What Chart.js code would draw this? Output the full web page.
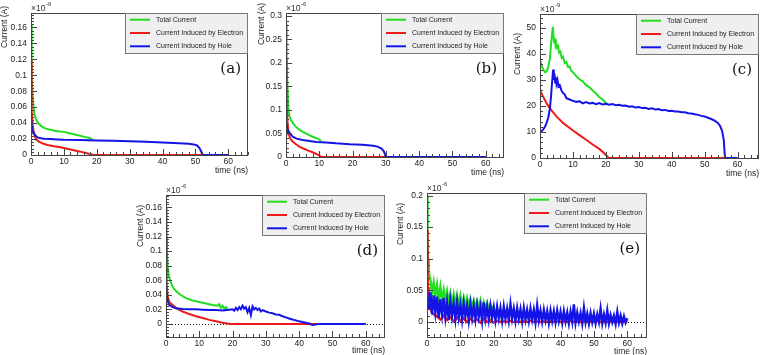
<!DOCTYPE html>
<html>
<head>
<meta charset="utf-8">
<script src="https://cdn.jsdelivr.net/npm/chart.js@4.4.1/dist/chart.umd.min.js"></script>
<style>
  body { margin: 0; background: #fff; }
  #wrap { position: relative; width: 760px; height: 355px; overflow: hidden; }
  canvas { position: absolute; }
</style>
</head>
<body>
<div id="wrap">
  <canvas id="pa" width="252" height="178" style="left:0px;top:0px"></canvas>
  <canvas id="pb" width="254" height="178" style="left:252px;top:0px"></canvas>
  <canvas id="pc" width="254" height="178" style="left:506px;top:0px"></canvas>
  <canvas id="pd" width="258" height="177" style="left:130px;top:178px"></canvas>
  <canvas id="pe" width="260" height="177" style="left:390px;top:178px"></canvas>
</div>
<script>
// legend labels (same in every panel)
const seriesNames = ['Total Current', 'Current Induced by Electron', 'Current Induced by Hole'];

// ---- panel (a), current in 1e-6 A, time in ns
const aTotalT = [0, 0.1, 0.3, 0.5, 0.8, 1.1, 1.6, 2.2, 3, 4, 5, 6.5, 8, 10, 12, 14, 16, 18, 18.8];
const aTotalV = [0.163, 0.14, 0.1, 0.075, 0.06, 0.05, 0.044, 0.04, 0.0365, 0.034, 0.0325, 0.031, 0.0298, 0.029, 0.027, 0.025, 0.023, 0.021, 0.019];
const aElecT = [0, 0.1, 0.3, 0.5, 0.8, 1.2, 1.7, 2.5, 3.5, 5, 7, 9, 11, 13, 15, 17, 18.4, 19, 30, 40, 50, 60];
const aElecV = [0.12, 0.09, 0.055, 0.038, 0.029, 0.023, 0.019, 0.0165, 0.0145, 0.0125, 0.011, 0.0098, 0.0078, 0.006, 0.0042, 0.0022, 0.0008, 0, 0, 0, 0, 0];
const aHoleT = [0, 0.2, 0.5, 1, 1.5, 2, 3, 4, 6, 8, 10, 15, 20, 25, 30, 35, 40, 45, 48, 49.5, 50.5, 51.2, 51.7, 52, 52.3, 60];
const aHoleV = [0.042, 0.036, 0.03, 0.026, 0.024, 0.022, 0.021, 0.0205, 0.02, 0.0195, 0.019, 0.0187, 0.0182, 0.0178, 0.0172, 0.0165, 0.0157, 0.0148, 0.014, 0.0133, 0.012, 0.009, 0.005, 0.002, 0, 0];

// ---- panel (b), 1e-6 A
const bTotalT = [0, 0.1, 0.3, 0.5, 0.7, 1, 1.5, 2.2, 3, 4, 5.2, 6.5, 8, 9.2, 10.2, 10.6];
const bTotalV = [0.282, 0.25, 0.19, 0.14, 0.105, 0.088, 0.078, 0.071, 0.064, 0.058, 0.053, 0.048, 0.043, 0.04, 0.036, 0.034];
const bElecT = [0, 0.1, 0.3, 0.5, 0.8, 1.2, 1.7, 2.2, 3, 4, 5.2, 6.5, 8, 9.2, 10.2, 10.7, 20, 40, 60];
const bElecV = [0.207, 0.17, 0.11, 0.07, 0.05, 0.04, 0.035, 0.032, 0.027, 0.022, 0.018, 0.014, 0.01, 0.006, 0.0025, 0, 0, 0, 0];
const bHoleT = [0, 0.3, 0.7, 1.2, 2, 3.2, 5, 7, 9.2, 12, 15, 19.2, 23, 26.2, 27.5, 28.7, 29.3, 29.7, 30, 40, 60];
const bHoleV = [0.071, 0.062, 0.055, 0.05, 0.043, 0.039, 0.036, 0.034, 0.032, 0.031, 0.029, 0.027, 0.026, 0.024, 0.022, 0.018, 0.013, 0.007, 0, 0, 0];

// ---- panel (c), 1e-9 A
const cTotalT = [0, 0.5, 1, 1.5, 2, 2.5, 3, 3.3, 3.6, 3.9, 4.1, 4.3, 4.5, 4.7, 4.9, 5.2, 5.5, 5.8, 6.2, 6.6, 7, 7.5, 8, 8.5, 9, 9.5, 10, 11, 12, 13, 14, 15, 16, 17, 18, 19, 20, 20.5];
const cTotalV = [37.6, 35.5, 34, 33, 33.3, 35, 38, 43, 47, 50.5, 47, 44.5, 46, 43.5, 44.5, 42.5, 43, 40.5, 41, 38.5, 39, 36.5, 37, 35, 35.2, 33.5, 33, 31.5, 30.3, 29.5, 28, 27.2, 26, 24.8, 23.5, 22.5, 21.2, 20.8];
const cElecT = [0, 1, 2, 3, 3.5, 5, 7, 10, 12, 14, 16, 18, 19.5, 20.5, 21, 30, 40, 50, 56];
const cElecV = [26, 23.5, 21, 19.2, 18.3, 16, 13.5, 10.6, 8.8, 7, 5.2, 3.5, 1.8, 0.5, 0, 0, 0, 0, 0];
const cHoleT = [0, 0.5, 1, 1.5, 2, 2.5, 3, 3.3, 3.6, 3.8, 4, 4.2, 4.4, 4.6, 4.8, 5, 5.3, 5.6, 6, 6.5, 7, 7.5, 8, 9, 10,
  11, 12, 13, 14, 15, 16, 17, 18, 19, 20, 21, 22, 23, 24, 25, 26, 27, 28, 29, 30, 31, 32, 33, 34, 35, 36, 37, 38, 39, 40,
  41, 42, 43, 44, 45, 46, 47, 48, 49, 50, 51, 52, 53, 54, 54.7, 55.3, 55.8, 56, 56.2, 60];
const cHoleV = [10, 10.3, 11, 12, 13.5, 15.5, 19, 23, 28, 31, 34, 30, 32.5, 29, 31, 28.5, 30, 27.5, 28, 26, 25, 24.5, 23, 22.5, 22,
  21.6, 21.8, 21, 21.5, 21, 21.2, 20.7, 21.1, 20.6, 20.9, 20.5, 20.8, 20.3, 20.5, 20.1, 20.2, 19.7, 19.9, 19.4, 19.6, 19.2, 19.3, 18.9, 19.1, 18.7, 18.8, 18.4, 18.5, 18.1, 18.2,
  17.9, 17.9, 17.6, 17.6, 17.2, 17.1, 16.8, 16.6, 16.2, 16, 15.5, 15, 14.4, 13.5, 12.3, 10.4, 7, 3, 0, 0];

// ---- panel (d), 1e-6 A
const dTotalT = [0, 0.1, 0.3, 0.5, 0.8, 1.2, 2, 3, 4, 5, 6.5, 8, 9, 10, 12, 14, 15.5, 16, 16.5, 17, 17.5, 18, 18.5];
const dTotalV = [0.16, 0.14, 0.1, 0.08, 0.068, 0.06, 0.051, 0.045, 0.041, 0.038, 0.0345, 0.032, 0.031, 0.03, 0.028, 0.026, 0.025, 0.027, 0.022, 0.025, 0.021, 0.023, 0.021];
const dElecT = [0, 0.1, 0.3, 0.5, 1, 2, 3, 5, 7, 9, 11, 13, 15, 17, 18.5, 19.2, 30, 45, 60];
const dElecV = [0.12, 0.09, 0.055, 0.038, 0.03, 0.026, 0.022, 0.017, 0.0135, 0.0105, 0.008, 0.0055, 0.0035, 0.0015, 0.0004, 0, 0, 0, 0];
const dHoleT = [0, 0.3, 0.6, 1, 2, 3, 5, 7, 9, 11, 13, 15, 17, 19, 20, 20.5, 21, 21.5, 22, 22.5, 23, 23.5, 24, 24.5, 25, 25.5, 26, 26.5, 27, 27.5, 28, 28.5, 29,
  30, 31, 32, 33, 34, 35, 36, 37, 38, 39, 40, 41, 42, 43, 44, 45, 45.5, 60];
const dHoleV = [0.044, 0.036, 0.03, 0.026, 0.023, 0.0215, 0.0205, 0.02, 0.02, 0.0195, 0.019, 0.019, 0.0185, 0.0195, 0.02, 0.018, 0.022, 0.019, 0.023, 0.02, 0.025, 0.021, 0.023, 0.016, 0.022, 0.012, 0.024, 0.02, 0.022, 0.019, 0.021, 0.017, 0.019,
  0.017, 0.0155, 0.0145, 0.013, 0.0125, 0.0105, 0.009, 0.0075, 0.006, 0.0048, 0.0035, 0.0025, 0.0015, 0.0005, -0.0015, -0.001, 0, 0];

// ---- panel (e), 1e-6 A, noisy
const eTotalT = [0, 0.1, 0.2, 0.3, 0.5, 0.75, 1, 1.5, 2, 2.5, 3, 3.5, 4, 4.5, 5, 5.5, 6, 6.5, 7, 7.5, 8, 8.5, 9, 9.5, 10,
  10.5, 11, 11.5, 12, 12.5, 13, 13.5, 14, 14.5, 15, 15.5, 16, 16.5, 17, 17.5, 18, 18.5, 19, 19.5, 20];
const eTotalV = [0.2, 0.17, 0.13, 0.1, 0.08, 0.072, 0.068, 0.045, 0.062, 0.04, 0.058, 0.036, 0.055, 0.034, 0.05, 0.032, 0.048, 0.03, 0.045, 0.028, 0.043, 0.027, 0.042, 0.026, 0.041,
  0.025, 0.038, 0.024, 0.037, 0.024, 0.036, 0.023, 0.034, 0.022, 0.033, 0.022, 0.034, 0.021, 0.031, 0.02, 0.03, 0.02, 0.028, 0.019, 0.026];
const eElecT = [0, 0.1, 0.2, 0.3, 0.5, 1, 1.5, 2, 3, 4, 5, 6, 7, 8, 9, 10, 11, 12, 13, 14, 15, 16, 17, 18, 19, 20,
  21, 22, 23, 24, 25, 26, 27, 28, 29, 30, 31, 32, 33, 34, 35, 36, 37, 38, 39, 40,
  41, 42, 43, 44, 45, 46, 47, 48, 49, 50, 51, 52, 53, 54, 55, 56, 57, 58, 59, 60];
const eElecV = [0.145, 0.11, 0.075, 0.055, 0.035, 0.022, 0.015, 0.012, 0.009, 0.004, 0.01, 0.003, 0.008, 0.001, 0.007, 0.002, 0.006, 0, 0.005, 0.001, 0.004, -0.001, 0.005, 0, 0.003, -0.001,
  0.002, 0, 0.001, 0, 0.002, 0, 0.001, 0, 0.001, 0, 0.002, 0, 0.001, 0, 0.001, 0, 0.002, 0, 0.001, 0,
  0.001, 0, 0.002, 0, 0.001, 0, 0.001, 0, 0.001, 0, 0.002, 0, 0.001, 0, 0.001, 0, 0.001, 0, 0.001, 0];
const eHoleT = [0, 0.5, 1, 1.5, 2, 2.5, 3, 3.5, 4, 4.5, 5, 5.5, 6, 6.5, 7, 7.5, 8, 8.5, 9, 9.5, 10,
  10.5, 11, 11.5, 12, 12.5, 13, 13.5, 14, 14.5, 15, 15.5, 16, 16.5, 17, 17.5, 18, 18.5, 19, 19.5, 20,
  20.5, 21, 21.5, 22, 22.5, 23, 23.5, 24, 24.5, 25, 25.5, 26, 26.5, 27, 27.5, 28, 28.5, 29, 29.5, 30,
  30.5, 31, 31.5, 32, 32.5, 33, 33.5, 34, 34.5, 35, 35.5, 36, 36.5, 37, 37.5, 38, 38.5, 39, 39.5, 40,
  40.5, 41, 41.5, 42, 42.5, 43, 43.5, 44, 44.5, 45, 45.5, 46, 46.5, 47, 47.5, 48, 48.5, 49, 49.5, 50,
  50.5, 51, 51.5, 52, 52.5, 53, 53.5, 54, 54.5, 55, 55.5, 56, 56.5, 57, 57.5, 58, 58.5, 59, 59.5, 60];
const eHoleV = [0.052, 0.02, 0.047, 0.012, 0.042, 0.015, 0.04, 0.006, 0.036, 0.012, 0.038, 0.008, 0.031, 0.003, 0.033, 0.01, 0.029, 0.005, 0.031, 0.008, 0.027,
  0.004, 0.029, 0.009, 0.026, 0.003, 0.028, 0.007, 0.025, 0.004, 0.026, 0.008, 0.024, 0.002, 0.031, 0.006, 0.024, 0.004, 0.025, 0.007, 0.023,
  0.003, 0.024, 0.006, 0.022, 0.002, 0.024, 0.005, 0.021, 0.003, 0.028, 0.006, 0.021, 0.002, 0.022, 0.005, 0.02, 0.001, 0.022, 0.004, 0.019,
  0.002, 0.021, 0.004, 0.019, 0, 0.026, 0.003, 0.018, 0.001, 0.019, 0.003, 0.017, -0.001, 0.018, 0.002, 0.017, 0, 0.018, 0.002, 0.016,
  -0.001, 0.017, 0.001, 0.015, -0.002, 0.016, 0.001, 0.028, -0.001, 0.015, 0.001, 0.014, -0.002, 0.022, 0, 0.013, -0.002, 0.014, 0, 0.013,
  -0.002, 0.012, 0, 0.021, -0.002, 0.012, -0.001, 0.018, -0.002, 0.011, 0, 0.01, -0.003, 0.016, -0.001, 0.01, -0.002, 0.009, -0.001, 0.006];

const GREEN = '#22dd22', RED = '#ee1a1a', BLUE = '#1414e6';

function pts(ts, vs) {
    return ts.map(function (t, i) { return { x: t, y: vs[i] }; });
}

// ROOT-like frame, inner ticks, legend box, multiplier, axis titles
const rootLook = {
    id: 'rootLook',
    beforeDatasetsDraw(chart) {
        const o = chart.options.plugins.rootLook;
        const ctx = chart.ctx, a = chart.chartArea;
        if (o.zeroLine) {
            const y = Math.round(chart.scales.y.getPixelForValue(0)) + 0.5;
            ctx.save();
            ctx.strokeStyle = '#111';
            ctx.lineWidth = 1;
            ctx.setLineDash([1, 2]);
            ctx.beginPath();
            ctx.moveTo(a.left, y);
            ctx.lineTo(a.right, y);
            ctx.stroke();
            ctx.restore();
        }
    },
    afterDatasetsDraw(chart) {
        const o = chart.options.plugins.rootLook;
        const ctx = chart.ctx, a = chart.chartArea;
        ctx.save();
        // frame
        ctx.strokeStyle = '#444';
        ctx.lineWidth = 1;
        ctx.strokeRect(Math.round(a.left) + 0.5, Math.round(a.top) + 0.5, Math.round(a.right - a.left) - 1, Math.round(a.bottom - a.top));
        // ticks inside the frame
        drawTicks(ctx, chart.scales.x, 5, true, a);
        drawTicks(ctx, chart.scales.y, 5, false, a);

        // legend
        const lw = 123, lh = 40;
        const lx = a.right - lw, ly = a.top;
        ctx.fillStyle = '#efefef';
        ctx.fillRect(lx, ly, lw, lh);
        ctx.strokeStyle = '#777';
        ctx.strokeRect(Math.round(lx) + 0.5, Math.round(ly) + 0.5, lw - 1, lh);
        ctx.font = '7px "Liberation Sans", Arial, sans-serif';
        ctx.textBaseline = 'middle';
        ctx.textAlign = 'left';
        chart.data.datasets.forEach(function (ds, i) {
            const ry = ly + 6.7 + i * 13.3;
            ctx.strokeStyle = ds.borderColor;
            ctx.lineWidth = 2;
            ctx.beginPath();
            ctx.moveTo(lx + 5, ry);
            ctx.lineTo(lx + 25, ry);
            ctx.stroke();
            ctx.fillStyle = '#222';
            ctx.fillText(ds.label, lx + 31, ry);
        });

        // panel letter
        ctx.fillStyle = '#111';
        ctx.font = '15px "DejaVu Serif", serif';
        ctx.textAlign = 'right';
        ctx.fillText(o.letter, a.right - 7, a.top + 56);

        // x10^n multiplier
        ctx.font = '8.5px "Liberation Sans", Arial, sans-serif';
        ctx.textAlign = 'left';
        ctx.textBaseline = 'alphabetic';
        ctx.fillStyle = '#333';
        ctx.fillText('\u00d710', a.left, a.top - 2.5);
        const w = ctx.measureText('\u00d710').width;
        ctx.font = '6px "Liberation Sans", Arial, sans-serif';
        ctx.fillText(o.exponent, a.left + w + 0.5, a.top - 7);

        // axis titles
        ctx.font = '8.5px "Liberation Sans", Arial, sans-serif';
        ctx.fillStyle = '#222';
        ctx.textAlign = 'right';
        ctx.fillText('time (ns)', a.right, a.bottom + o.xTitleGap);
        ctx.translate(o.yTitleX, o.yTitleTop);
        ctx.rotate(-Math.PI / 2);
        ctx.textBaseline = 'middle';
        ctx.fillText('Current (A)', 0, 0);
        ctx.restore();
    }
};

function drawTicks(ctx, scale, div, horizontal, a) {
    const vals = scale.ticks.map(function (t) { return t.value; });
    if (vals.length < 2) return;
    const step = vals[1] - vals[0];
    const minor = step / div;
    ctx.strokeStyle = '#444';
    ctx.lineWidth = 1;
    ctx.beginPath();
    for (let k = -div; k < 200; k++) {
        const v = vals[0] + k * minor;
        if (v > scale.max + 1e-12) break;
        if (v < scale.min - 1e-12) continue;
        const len = (k % div === 0) ? 6 : 3;
        const p = Math.round(scale.getPixelForValue(v)) + 0.5;
        if (horizontal) {
            ctx.moveTo(p, a.bottom);
            ctx.lineTo(p, a.bottom - len);
        } else {
            ctx.moveTo(a.left, p);
            ctx.lineTo(a.left + len, p);
        }
    }
    ctx.stroke();
}

function makePanel(id, series, sc, look) {
    const colors = [GREEN, RED, BLUE];
    const datasets = series.map(function (d, i) {
        return {
            label: seriesNames[i],
            data: d,
            borderColor: colors[i],
            borderWidth: look.lw,
            pointRadius: 0,
            tension: 0,
            fill: false,
            order: 3 - i
        };
    });
    const tickFont = { family: '"Liberation Sans", Arial, sans-serif', size: 8.5 };
    new Chart(document.getElementById(id), {
        type: 'line',
        data: { datasets: datasets },
        plugins: [rootLook],
        options: {
            responsive: false,
            animation: false,
            devicePixelRatio: 1,
            layout: { padding: { top: look.top, right: look.right, left: 0, bottom: 0 } },
            plugins: {
                legend: { display: false },
                tooltip: { enabled: false },
                rootLook: look
            },
            scales: {
                x: {
                    type: 'linear',
                    min: 0, max: sc.xMax,
                    grid: { display: false, drawTicks: false },
                    border: { display: false },
                    ticks: {
                        stepSize: 10, includeBounds: false, autoSkip: false, maxRotation: 0,
                        padding: 2, color: '#222', font: tickFont
                    },
                    afterFit: function (s) { s.height = look.xh; }
                },
                y: {
                    type: 'linear',
                    min: sc.yMin, max: sc.yMax,
                    grid: { display: false, drawTicks: false },
                    border: { display: false },
                    ticks: {
                        stepSize: sc.yStep, includeBounds: false, autoSkip: false,
                        padding: 4, color: '#222', font: tickFont,
                        callback: function (v) { return String(+v.toFixed(6)); }
                    },
                    afterFit: function (s) { s.width = look.left; }
                }
            }
        }
    });
}

makePanel('pa', [pts(aTotalT, aTotalV), pts(aElecT, aElecV), pts(aHoleT, aHoleV)],
    { xMax: 66, yMin: 0, yMax: 0.178, yStep: 0.02 },
    { letter: '(a)', exponent: '-6', top: 13, right: 4, left: 31, xh: 23, lw: 2, xTitleGap: 18, yTitleX: 5, yTitleTop: 6 });

makePanel('pb', [pts(bTotalT, bTotalV), pts(bElecT, bElecV), pts(bHoleT, bHoleV)],
    { xMax: 65.5, yMin: 0, yMax: 0.306, yStep: 0.05 },
    { letter: '(b)', exponent: '-6', top: 13, right: 2, left: 34, xh: 21, lw: 2, xTitleGap: 18, yTitleX: 10, yTitleTop: 3 });

makePanel('pc', [pts(cTotalT, cTotalV), pts(cElecT, cElecV), pts(cHoleT, cHoleV)],
    { xMax: 66.5, yMin: 0, yMax: 55.4, yStep: 10 },
    { letter: '(c)', exponent: '-9', top: 14, right: 1, left: 34, xh: 20, lw: 2, xTitleGap: 18, yTitleX: 12, yTitleTop: 33 });

makePanel('pd', [pts(dTotalT, dTotalV), pts(dElecT, dElecV), pts(dHoleT, dHoleV)],
    { xMax: 65.8, yMin: -0.018, yMax: 0.177, yStep: 0.02 },
    { letter: '(d)', exponent: '-6', top: 17, right: 3, left: 36, xh: 18, lw: 2, xTitleGap: 16, yTitleX: 11, yTitleTop: 27, zeroLine: true });

makePanel('pe', [pts(eTotalT, eTotalV), pts(eElecT, eElecV), pts(eHoleT, eHoleV)],
    { xMax: 65.9, yMin: -0.0237, yMax: 0.204, yStep: 0.05 },
    { letter: '(e)', exponent: '-6', top: 15, right: 3, left: 37, xh: 18, lw: 2.4, xTitleGap: 16.5, yTitleX: 11, yTitleTop: 25, zeroLine: true });
</script>
</body>
</html>
